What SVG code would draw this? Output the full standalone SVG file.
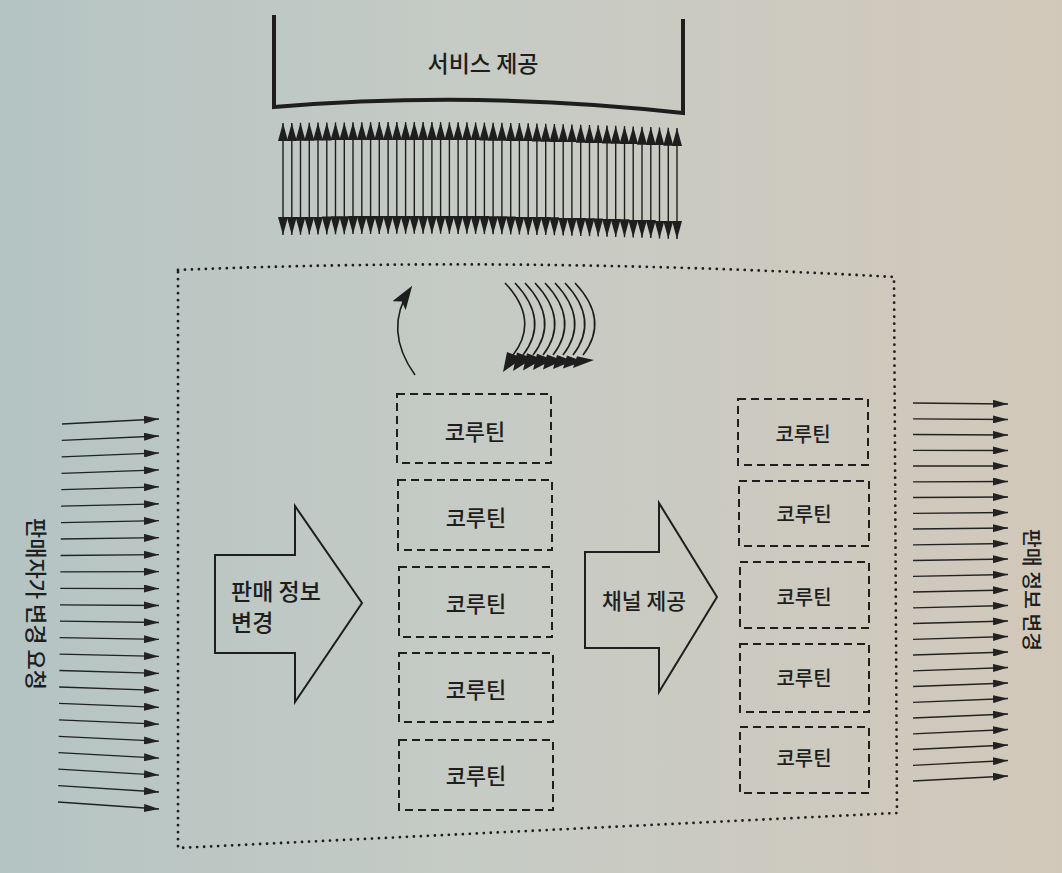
<svg xmlns="http://www.w3.org/2000/svg" width="1062" height="873" viewBox="0 0 1062 873">
<defs>
<linearGradient id="bg" x1="0" y1="0" x2="1" y2="0">
<stop offset="0" stop-color="#b4c4c3"/>
<stop offset="0.45" stop-color="#c6cbc5"/>
<stop offset="1" stop-color="#d2c8ba"/>
</linearGradient>
<marker id="dh" viewBox="0 0 18 10" refX="18" refY="5" markerWidth="18" markerHeight="10" markerUnits="userSpaceOnUse" orient="auto-start-reverse"><path d="M0,0 L18,5 L0,10 z" fill="#1e1e1e"/></marker>
<marker id="ah" viewBox="0 0 15 8" refX="15" refY="4" markerWidth="15" markerHeight="8" markerUnits="userSpaceOnUse" orient="auto"><path d="M0,0 L15,4 L0,8 z" fill="#222"/></marker>
<marker id="ch" viewBox="0 0 24 16" refX="20" refY="8" markerWidth="24" markerHeight="16" markerUnits="userSpaceOnUse" orient="auto"><path d="M0,0 L24,8 L0,16 L5,8 z" fill="#1e1e1e"/></marker>
</defs>
<style>
.ln{stroke:#1e1e1e;fill:none}
.dbl{stroke:#1e1e1e;stroke-width:1.4;marker-start:url(#dh);marker-end:url(#dh)}
.arr{stroke:#222;stroke-width:1.3;marker-end:url(#ah)}
.box{fill:none;stroke:#1e1e1e;stroke-width:2;stroke-dasharray:8 5}
.big{fill:none;stroke:#1e1e1e;stroke-width:2;stroke-linejoin:miter}
.dot{fill:none;stroke:#1e1e1e;stroke-width:2.8;stroke-dasharray:0 7;stroke-linecap:round}
.t{font-family:"Noto Sans CJK KR","Noto Sans",sans-serif;fill:#1e1e1e;font-weight:500}
.arc{fill:none;stroke:#1e1e1e;stroke-width:1.6}
.head{fill:#1e1e1e}
</style>
<rect x="0" y="0" width="1062" height="873" fill="url(#bg)"/>

<g id="service">
<path class="ln" stroke-width="4" d="M274,15 L274,107 Q478,90 683,113 L683,19"/>
<text class="t" x="483" y="62" font-size="23" text-anchor="middle" dominant-baseline="central">서비스 제공</text>
</g>

<g id="service-arrows">
<line class="dbl" x1="283.0" y1="123.0" x2="283.0" y2="235.0"/>
<line class="dbl" x1="291.8" y1="122.9" x2="291.8" y2="234.9"/>
<line class="dbl" x1="300.5" y1="122.8" x2="300.5" y2="234.8"/>
<line class="dbl" x1="309.3" y1="122.7" x2="309.3" y2="234.6"/>
<line class="dbl" x1="318.0" y1="122.6" x2="318.0" y2="234.5"/>
<line class="dbl" x1="326.8" y1="122.5" x2="326.8" y2="234.4"/>
<line class="dbl" x1="335.5" y1="122.4" x2="335.5" y2="234.3"/>
<line class="dbl" x1="344.3" y1="122.4" x2="344.3" y2="234.2"/>
<line class="dbl" x1="353.0" y1="122.3" x2="353.0" y2="234.1"/>
<line class="dbl" x1="361.8" y1="122.2" x2="361.8" y2="234.0"/>
<line class="dbl" x1="370.6" y1="122.2" x2="370.6" y2="234.0"/>
<line class="dbl" x1="379.3" y1="122.1" x2="379.3" y2="233.9"/>
<line class="dbl" x1="388.1" y1="122.1" x2="388.1" y2="233.8"/>
<line class="dbl" x1="396.8" y1="122.1" x2="396.8" y2="233.8"/>
<line class="dbl" x1="405.6" y1="122.1" x2="405.6" y2="233.8"/>
<line class="dbl" x1="414.3" y1="122.1" x2="414.3" y2="233.8"/>
<line class="dbl" x1="423.1" y1="122.1" x2="423.1" y2="233.7"/>
<line class="dbl" x1="431.9" y1="122.1" x2="431.9" y2="233.7"/>
<line class="dbl" x1="440.6" y1="122.1" x2="440.6" y2="233.7"/>
<line class="dbl" x1="449.4" y1="122.2" x2="449.4" y2="233.8"/>
<line class="dbl" x1="458.1" y1="122.3" x2="458.1" y2="233.9"/>
<line class="dbl" x1="466.9" y1="122.3" x2="466.9" y2="233.8"/>
<line class="dbl" x1="475.6" y1="122.4" x2="475.6" y2="233.9"/>
<line class="dbl" x1="484.4" y1="122.6" x2="484.4" y2="234.1"/>
<line class="dbl" x1="493.1" y1="122.7" x2="493.1" y2="234.2"/>
<line class="dbl" x1="501.9" y1="122.8" x2="501.9" y2="234.2"/>
<line class="dbl" x1="510.7" y1="123.0" x2="510.7" y2="234.4"/>
<line class="dbl" x1="519.4" y1="123.1" x2="519.4" y2="234.5"/>
<line class="dbl" x1="528.2" y1="123.3" x2="528.2" y2="234.7"/>
<line class="dbl" x1="536.9" y1="123.5" x2="536.9" y2="234.9"/>
<line class="dbl" x1="545.7" y1="123.7" x2="545.7" y2="235.0"/>
<line class="dbl" x1="554.4" y1="124.0" x2="554.4" y2="235.3"/>
<line class="dbl" x1="563.2" y1="124.2" x2="563.2" y2="235.5"/>
<line class="dbl" x1="571.9" y1="124.4" x2="571.9" y2="235.7"/>
<line class="dbl" x1="580.7" y1="124.7" x2="580.7" y2="235.9"/>
<line class="dbl" x1="589.5" y1="125.0" x2="589.5" y2="236.2"/>
<line class="dbl" x1="598.2" y1="125.2" x2="598.2" y2="236.4"/>
<line class="dbl" x1="607.0" y1="125.5" x2="607.0" y2="236.7"/>
<line class="dbl" x1="615.7" y1="125.8" x2="615.7" y2="237.0"/>
<line class="dbl" x1="624.5" y1="126.1" x2="624.5" y2="237.2"/>
<line class="dbl" x1="633.2" y1="126.4" x2="633.2" y2="237.5"/>
<line class="dbl" x1="642.0" y1="126.7" x2="642.0" y2="237.8"/>
<line class="dbl" x1="650.8" y1="127.0" x2="650.8" y2="238.1"/>
<line class="dbl" x1="659.5" y1="127.4" x2="659.5" y2="238.5"/>
<line class="dbl" x1="668.3" y1="127.7" x2="668.3" y2="238.7"/>
<line class="dbl" x1="677.0" y1="128.0" x2="677.0" y2="239.0"/>
</g>

<g id="boundary">
<path class="dot" d="M178,270 Q520,256 894,277 L897,813 L178,848 Z"/>
</g>

<g id="rotation">
<path class="arc" d="M415,375 Q383,330 410,289" marker-end="url(#ch)"/>
</g>

<g id="rotation-multi">
<path class="arc" d="M505,283 Q540,320 513,355"/>
<path class="arc" d="M515,283 Q550,320 523,355"/>
<path class="arc" d="M525,283 Q560,320 533,355"/>
<path class="arc" d="M535,283 Q570,320 543,355"/>
<path class="arc" d="M545,283 Q580,320 553,355"/>
<path class="arc" d="M555,283 Q590,320 563,355"/>
<path class="arc" d="M565,283 Q600,320 573,355"/>
<path class="arc" d="M575,283 Q610,320 583,355"/>
<path class="head" d="M507,352 L523,358 L503,372 Z"/>
<path class="head" d="M517,352.6 L533,358.6 L513,371 Z"/>
<path class="head" d="M527,353.2 L543,359.2 L523,370.5 Z"/>
<path class="head" d="M537,353.8 L553,359.8 L533,370 Z"/>
<path class="head" d="M547,354.4 L563,360.4 L543,369.5 Z"/>
<path class="head" d="M557,355 L573,361 L553,369 Z"/>
<path class="head" d="M567,355.6 L583,361.6 L563,368.5 Z"/>
<path class="head" d="M577,356.2 L594,360 L573,368 Z"/>
</g>

<g id="left-arrows">
<line class="arr" x1="62.0" y1="424.0" x2="159" y2="419.0"/>
<line class="arr" x1="61.8" y1="440.4" x2="159" y2="436.0"/>
<line class="arr" x1="61.7" y1="456.9" x2="159" y2="452.9"/>
<line class="arr" x1="61.5" y1="473.3" x2="159" y2="469.9"/>
<line class="arr" x1="61.3" y1="489.7" x2="159" y2="486.8"/>
<line class="arr" x1="61.1" y1="506.2" x2="159" y2="503.8"/>
<line class="arr" x1="61.0" y1="522.6" x2="159" y2="520.7"/>
<line class="arr" x1="60.8" y1="539.0" x2="159" y2="537.7"/>
<line class="arr" x1="60.6" y1="555.5" x2="159" y2="554.7"/>
<line class="arr" x1="60.4" y1="571.9" x2="159" y2="571.6"/>
<line class="arr" x1="60.3" y1="588.4" x2="159" y2="588.6"/>
<line class="arr" x1="60.1" y1="604.8" x2="159" y2="605.5"/>
<line class="arr" x1="59.9" y1="621.2" x2="159" y2="622.5"/>
<line class="arr" x1="59.7" y1="637.7" x2="159" y2="639.4"/>
<line class="arr" x1="59.6" y1="654.1" x2="159" y2="656.4"/>
<line class="arr" x1="59.4" y1="670.5" x2="159" y2="673.4"/>
<line class="arr" x1="59.2" y1="687.0" x2="159" y2="690.3"/>
<line class="arr" x1="59.0" y1="703.4" x2="159" y2="707.3"/>
<line class="arr" x1="58.9" y1="719.8" x2="159" y2="724.2"/>
<line class="arr" x1="58.7" y1="736.3" x2="159" y2="741.2"/>
<line class="arr" x1="58.5" y1="752.7" x2="159" y2="758.1"/>
<line class="arr" x1="58.3" y1="769.1" x2="159" y2="775.1"/>
<line class="arr" x1="58.2" y1="785.6" x2="159" y2="792.0"/>
<line class="arr" x1="58.0" y1="802.0" x2="159" y2="809.0"/>
</g>
<g id="left-label">
<text class="t" font-size="22" text-anchor="middle" dominant-baseline="central" transform="translate(38,604) rotate(90)">판매자가 변경 요청</text>
</g>

<g id="right-arrows">
<line class="arr" x1="913" y1="403.0" x2="1008" y2="404.0"/>
<line class="arr" x1="913" y1="418.8" x2="1008" y2="419.5"/>
<line class="arr" x1="913" y1="434.5" x2="1008" y2="435.0"/>
<line class="arr" x1="913" y1="450.3" x2="1008" y2="450.5"/>
<line class="arr" x1="913" y1="466.0" x2="1008" y2="466.0"/>
<line class="arr" x1="913" y1="481.8" x2="1008" y2="481.5"/>
<line class="arr" x1="913" y1="497.5" x2="1008" y2="497.0"/>
<line class="arr" x1="913" y1="513.3" x2="1008" y2="512.5"/>
<line class="arr" x1="913" y1="529.0" x2="1008" y2="528.0"/>
<line class="arr" x1="913" y1="544.8" x2="1008" y2="543.5"/>
<line class="arr" x1="913" y1="560.5" x2="1008" y2="559.0"/>
<line class="arr" x1="913" y1="576.3" x2="1008" y2="574.5"/>
<line class="arr" x1="913" y1="592.0" x2="1008" y2="590.0"/>
<line class="arr" x1="913" y1="607.8" x2="1008" y2="605.5"/>
<line class="arr" x1="913" y1="623.5" x2="1008" y2="621.0"/>
<line class="arr" x1="913" y1="639.3" x2="1008" y2="636.5"/>
<line class="arr" x1="913" y1="655.0" x2="1008" y2="652.0"/>
<line class="arr" x1="913" y1="670.8" x2="1008" y2="667.5"/>
<line class="arr" x1="913" y1="686.5" x2="1008" y2="683.0"/>
<line class="arr" x1="913" y1="702.3" x2="1008" y2="698.5"/>
<line class="arr" x1="913" y1="718.0" x2="1008" y2="714.0"/>
<line class="arr" x1="913" y1="733.8" x2="1008" y2="729.5"/>
<line class="arr" x1="913" y1="749.5" x2="1008" y2="745.0"/>
<line class="arr" x1="913" y1="765.3" x2="1008" y2="760.5"/>
<line class="arr" x1="913" y1="781.0" x2="1008" y2="776.0"/>
</g>
<g id="right-label">
<text class="t" font-size="20.5" text-anchor="middle" dominant-baseline="central" transform="translate(1033,590) rotate(90)">판매 정보 변경</text>
</g>

<g id="arrow-change">
<path class="big" d="M215,555 L295,555 L295,506 L362,603 L295,702 L295,653 L215,653 Z"/>
<text class="t" font-size="23" x="231" y="590" dominant-baseline="central">판매 정보</text>
<text class="t" font-size="23" x="231" y="621" dominant-baseline="central">변경</text>
</g>

<g id="arrow-channel">
<path class="big" d="M585,552 L659,552 L659,503 L717,597 L659,692 L659,648 L585,648 Z"/>
<text class="t" font-size="21.5" x="644" y="599" text-anchor="middle" dominant-baseline="central">채널 제공</text>
</g>

<g id="coroutine-l1"><rect class="box" x="397" y="394" width="154" height="69"/><text class="t" font-size="22" x="475" y="430" text-anchor="middle" dominant-baseline="central">코루틴</text></g>
<g id="coroutine-l2"><rect class="box" x="398" y="480" width="154" height="70"/><text class="t" font-size="22" x="476" y="516" text-anchor="middle" dominant-baseline="central">코루틴</text></g>
<g id="coroutine-l3"><rect class="box" x="399" y="567" width="153" height="70"/><text class="t" font-size="22" x="476" y="602" text-anchor="middle" dominant-baseline="central">코루틴</text></g>
<g id="coroutine-l4"><rect class="box" x="399" y="653" width="154" height="69"/><text class="t" font-size="22" x="476" y="688" text-anchor="middle" dominant-baseline="central">코루틴</text></g>
<g id="coroutine-l5"><rect class="box" x="399" y="740" width="154" height="70"/><text class="t" font-size="22" x="476" y="774" text-anchor="middle" dominant-baseline="central">코루틴</text></g>

<g id="coroutine-r1"><rect class="box" x="738" y="399" width="130" height="66"/><text class="t" font-size="20" x="803" y="433" text-anchor="middle" dominant-baseline="central">코루틴</text></g>
<g id="coroutine-r2"><rect class="box" x="739" y="481" width="130" height="65"/><text class="t" font-size="20" x="804" y="513" text-anchor="middle" dominant-baseline="central">코루틴</text></g>
<g id="coroutine-r3"><rect class="box" x="740" y="562" width="129" height="66"/><text class="t" font-size="20" x="804" y="596" text-anchor="middle" dominant-baseline="central">코루틴</text></g>
<g id="coroutine-r4"><rect class="box" x="740" y="644" width="129" height="68"/><text class="t" font-size="20" x="804" y="677" text-anchor="middle" dominant-baseline="central">코루틴</text></g>
<g id="coroutine-r5"><rect class="box" x="740" y="727" width="129" height="66"/><text class="t" font-size="20" x="804" y="757" text-anchor="middle" dominant-baseline="central">코루틴</text></g>
</svg>
